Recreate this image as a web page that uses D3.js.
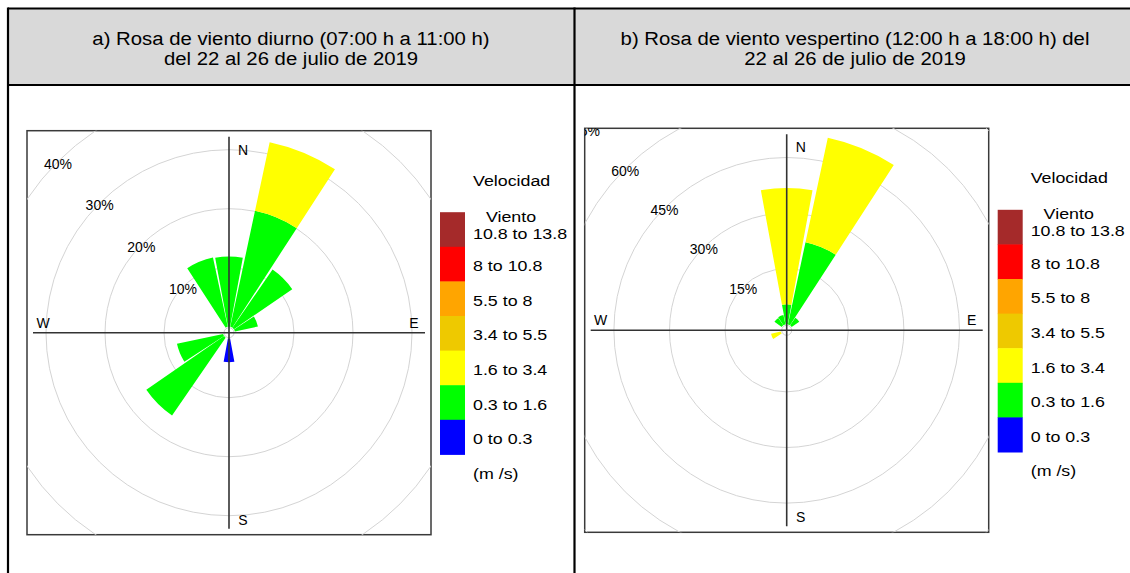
<!DOCTYPE html>
<html>
<head>
<meta charset="utf-8">
<script src="https://cdn.jsdelivr.net/npm/d3@7"></script>
<style>
  body { margin: 0; background: #fff; }
  svg { display: block; font-family: "Liberation Sans", Arial, sans-serif; }
</style>
</head>
<body>
<script>
// wind directions, clockwise from north
const directions = ['N','NNE','NE','ENE','E','ESE','SE','SSE','S','SSW','SW','WSW','W','WNW','NW','NNW'];

// speed classes (m/s), low to high, and their colours
const speedClasses = ['0 to 0.3','0.3 to 1.6','1.6 to 3.4','3.4 to 5.5','5.5 to 8','8 to 10.8','10.8 to 13.8'];
const classColors = ['#0000ff','#00ff00','#ffff00','#eec900','#ffa500','#ff0000','#a52a2a'];

// a) diurno: frequency (%) per direction for each speed class
const diurno00 = [0,0,0,0,0,0,0,0,4.0,0,0,0,0,0,0,0];
const diurno03 = [11.9,20.1,12.0,4.0,0,0,0,0,0,0,16.0,8.0,0,0,0,12.0];
const diurno16 = [0,11.9,0,0,0,0,0,0,0,0,0,0,0,0,0,0];
const diurnoTicks = [10,20,30,40];

// b) vespertino
const vesp00 = [0,0,0,0,0,0,0,0,0,0,0,0,0,0,0,0];
const vesp03 = [5.4,22.7,2.5,0,0,0,0,0,0,0,0,0,0,0,2.4,2.6];
const vesp16 = [31.4,28.8,0,0,0,0,0,0,0,0,0,2.7,0,0,0,0];
const vespTicks = [15,30,45,60,75];

const titleA = ['a) Rosa de viento diurno (07:00 h a 11:00 h)', 'del 22 al 26 de julio de 2019'];
const titleB = ['b) Rosa de viento vespertino (12:00 h a 18:00 h) del', '22 al 26 de julio de 2019'];

const width = 1130;
const height = 573;

const svg = d3.select('body').append('svg')
  .attr('width', width)
  .attr('height', height);

// table layout
const tableLeft = 8, tableMid = 574.5, tableRight = 1136;
const tableTop = 8.5, headerBottom = 85;

svg.append('rect')
  .attr('x', tableLeft).attr('y', tableTop)
  .attr('width', tableRight - tableLeft).attr('height', headerBottom - tableTop)
  .attr('fill', '#d9d9d9');

const tableLines = [
  [tableLeft, tableTop, tableRight, tableTop],
  [tableLeft, headerBottom, tableRight, headerBottom],
  [tableLeft, tableTop - 1, tableLeft, height],
  [tableMid, tableTop - 1, tableMid, height]
];
svg.selectAll('line.table').data(tableLines)
  .enter().append('line')
  .attr('class', 'table')
  .attr('x1', d => d[0]).attr('y1', d => d[1])
  .attr('x2', d => d[2]).attr('y2', d => d[3])
  .attr('stroke', '#000').attr('stroke-width', 2.2);

function headerText (lines, cx) {
  lines.forEach((t, i) => {
    svg.append('text')
      .attr('transform', `translate(${cx}, ${45 + i * 20}) scale(1.13, 1)`)
      .attr('text-anchor', 'middle')
      .attr('font-size', 18)
      .text(t);
  });
}
headerText(titleA, 291);
headerText(titleB, 855);

const toRad = deg => deg * Math.PI / 180;
const sectorWidth = 360 / directions.length;
const gap = 0.8;

function drawRose (cfg) {
  const { cx, cy, rMax, maxPct, ticks, series, id } = cfg;
  const half = 202;
  const rScale = d3.scaleLinear().domain([0, maxPct]).range([6, rMax]);

  const g = svg.append('g').attr('transform', `translate(${cx}, ${cy})`);

  svg.append('clipPath').attr('id', id)
    .append('rect')
    .attr('x', cx - half).attr('y', cy - half)
    .attr('width', half * 2).attr('height', half * 2);

  const inner = svg.append('g')
    .attr('clip-path', `url(#${id})`)
    .append('g')
    .attr('transform', `translate(${cx}, ${cy})`);

  // rings
  inner.selectAll('circle.ring').data(ticks)
    .enter().append('circle')
    .attr('class', 'ring')
    .attr('r', d => rScale(d))
    .attr('fill', 'none')
    .attr('stroke', '#d4d4d4')
    .attr('stroke-width', 1);

  // stacked wedges
  const wedges = [];
  directions.forEach((dir, i) => {
    let cum = 0;
    series.forEach((s, k) => {
      const v = s[i];
      if (v > 0) {
        wedges.push({ dir: i, k: k, from: cum, to: cum + v });
        cum += v;
      }
    });
  });

  const arc = d3.arc()
    .innerRadius(d => rScale(d.from))
    .outerRadius(d => rScale(d.to))
    .startAngle(d => toRad(d.dir * sectorWidth - sectorWidth / 2 + gap))
    .endAngle(d => toRad(d.dir * sectorWidth + sectorWidth / 2 - gap));

  inner.selectAll('path.wedge').data(wedges)
    .enter().append('path')
    .attr('class', 'wedge')
    .attr('d', arc)
    .attr('fill', d => classColors[d.k]);

  // calm circle
  inner.append('circle')
    .attr('r', 5)
    .attr('fill', 'none')
    .attr('stroke', '#cfcfcf');

  // axes
  inner.append('line')
    .attr('x1', 0).attr('x2', 0).attr('y1', -196).attr('y2', 196)
    .attr('stroke', '#333').attr('stroke-width', 1.6);
  inner.append('line')
    .attr('x1', -196).attr('x2', 196).attr('y1', 0).attr('y2', 0)
    .attr('stroke', '#333').attr('stroke-width', 1.6);

  // percentage labels along NW diagonal
  inner.selectAll('text.tick').data(ticks)
    .enter().append('text')
    .attr('class', 'tick')
    .attr('x', d => -rScale(d) * Math.SQRT1_2)
    .attr('y', d => -rScale(d) * Math.SQRT1_2 + 2)
    .attr('text-anchor', 'middle')
    .attr('dominant-baseline', 'central')
    .attr('font-size', 14)
    .text(d => d + '%');

  // compass letters
  const compass = [['N', 14, -183], ['S', 14, 187], ['W', -186, -10], ['E', 185, -10]];
  inner.selectAll('text.compass').data(compass)
    .enter().append('text')
    .attr('class', 'compass')
    .attr('x', d => d[1]).attr('y', d => d[2])
    .attr('text-anchor', 'middle')
    .attr('dominant-baseline', 'central')
    .attr('font-size', 14)
    .text(d => d[0]);

  // frame
  g.append('rect')
    .attr('x', -half).attr('y', -half)
    .attr('width', half * 2).attr('height', half * 2)
    .attr('fill', 'none')
    .attr('stroke', '#3a3a3a')
    .attr('stroke-width', 1.5);

  // legend
  const boxH = 34.6;
  const legendTop = -120.5;
  const order = d3.range(speedClasses.length).reverse();
  const lg = g.append('g');
  lg.selectAll('rect').data(order)
    .enter().append('rect')
    .attr('x', 211).attr('y', (d, i) => legendTop + i * boxH)
    .attr('width', 25).attr('height', boxH + 0.5)
    .attr('fill', d => classColors[d]);

  const legendText = (t, x, y, anchor) => lg.append('text')
    .attr('transform', `translate(${x}, ${y}) scale(1.15, 1)`)
    .attr('text-anchor', anchor || 'start')
    .attr('dominant-baseline', 'central')
    .attr('font-size', 15.5)
    .text(t);

  legendText('Velocidad', 244, -152);
  legendText('Viento', 282, -116, 'middle');
  order.forEach((d, i) => {
    const y = i === 0 ? -99 : legendTop + i * boxH + boxH / 2 + 2;
    legendText(speedClasses[d], 244, y);
  });
  legendText('(m /s)', 244, 141);
}

drawRose({
  id: 'clipA', cx: 229, cy: 332.7, rMax: 242, maxPct: 40,
  ticks: diurnoTicks, series: [diurno00, diurno03, diurno16]
});
drawRose({
  id: 'clipB', cx: 786.7, cy: 330.3, rMax: 284, maxPct: 75,
  ticks: vespTicks, series: [vesp00, vesp03, vesp16]
});
</script>
</body>
</html>
